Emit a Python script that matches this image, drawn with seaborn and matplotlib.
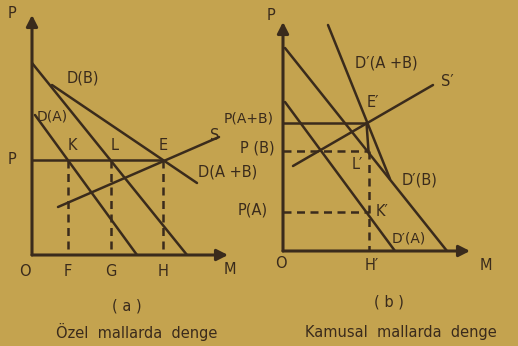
import matplotlib
matplotlib.use("Agg")
import matplotlib.pyplot as plt
import seaborn as sns

sns.set_theme(style="white")
plt.rcParams['font.family'] = ['DejaVu Sans']

BG = "#c4a34f"
INK = "#3a2b1c"

# ---------- panel (a) data (quantity, price) ----------
a_xmax, a_ymax = 19.6, 24.0
a_DA_x = [0.3, 10.5];  a_DA_y = [14.0, 0.0]
a_DB_x = [0.0, 15.5];  a_DB_y = [19.2, 0.0]
a_DAB_x = [2.0, 16.5]; a_DAB_y = [17.0, 7.2]
a_S_x = [2.6, 18.7];   a_S_y = [4.8, 11.8]
a_P = 9.5
a_F, a_G, a_H = 3.6, 7.9, 13.1

# ---------- panel (b) data ----------
b_xmax, b_ymax = 18.7, 22.9
b_DA_x = [0.2, 11.2];  b_DA_y = [14.9, 0.0]
b_DB_x = [0.2, 16.4];  b_DB_y = [20.3, 0.0]
b_DAB_x = [4.5, 10.7]; b_DAB_y = [22.6, 7.2]
b_S_x = [1.0, 15.0];   b_S_y = [8.5, 16.6]
b_PAB, b_PB, b_PA = 12.8, 10.0, 3.9
b_E = 8.35
b_H = 8.55

W, H = 518, 346
fig = plt.figure(figsize=(W / 100, H / 100), dpi=100, facecolor=BG)


def make_ax(ox, oy, xmax, ymax):
    # origin at pixel (ox, oy); 1 data unit = 10 px
    ax = fig.add_axes([ox / W, (H - oy) / H, xmax * 10 / W, ymax * 10 / H])
    ax.set_xlim(0, xmax)
    ax.set_ylim(0, ymax)
    ax.axis("off")
    ax.patch.set_alpha(0)
    return ax


def seg(ax, xs, ys, dashed=False, lw=1.8):
    sns.lineplot(x=xs, y=ys, ax=ax, color=INK, lw=lw, estimator=None,
                 sort=False, linestyle=(0, (3.2, 2.2)) if dashed else "-")


def axes_arrows(ax, xmax, ymax):
    kw = dict(arrowstyle="-|>,head_length=0.55,head_width=0.28", color=INK,
              lw=2.2, shrinkA=0, shrinkB=0)
    ax.annotate("", xy=(xmax, 0), xytext=(0, 0), arrowprops=kw,
                annotation_clip=False)
    ax.annotate("", xy=(0, ymax), xytext=(0, 0), arrowprops=kw,
                annotation_clip=False)


def lab(ax, ox, oy, px, py, s, ha="center", fs=10.5):
    ax.text((px - ox) / 10, (oy - py) / 10, s, ha=ha, va="center",
            fontsize=fs, color=INK, clip_on=False)


# ---------------- panel (a) ----------------
oxa, oya = 32, 255
axa = make_ax(oxa, oya, a_xmax, a_ymax)
axes_arrows(axa, a_xmax, a_ymax)
seg(axa, a_DA_x, a_DA_y)
seg(axa, a_DB_x, a_DB_y)
seg(axa, a_DAB_x, a_DAB_y)
seg(axa, a_S_x, a_S_y)
seg(axa, [0, a_H], [a_P, a_P])
for q in (a_F, a_G, a_H):
    seg(axa, [q, q], [a_P, 0], dashed=True)

lab(axa, oxa, oya, 12, 14, "P")
lab(axa, oxa, oya, 83, 78, "D(B)")
lab(axa, oxa, oya, 52, 117, "D(A)", fs=10)
lab(axa, oxa, oya, 72, 146, "K")
lab(axa, oxa, oya, 115, 146, "L")
lab(axa, oxa, oya, 163, 146, "E")
lab(axa, oxa, oya, 12, 160, "P")
lab(axa, oxa, oya, 215, 136, "S")
lab(axa, oxa, oya, 228, 172, "D(A +B)")
lab(axa, oxa, oya, 25, 272, "O")
lab(axa, oxa, oya, 68, 272, "F")
lab(axa, oxa, oya, 111, 272, "G")
lab(axa, oxa, oya, 163, 272, "H")
lab(axa, oxa, oya, 230, 269, "M")
lab(axa, oxa, oya, 127, 306, "( a )")
lab(axa, oxa, oya, 137, 332, "Özel  mallarda  denge")

# ---------------- panel (b) ----------------
oxb, oyb = 283, 251
axb = make_ax(oxb, oyb, b_xmax, b_ymax)
axes_arrows(axb, b_xmax, b_ymax)
seg(axb, b_DA_x, b_DA_y)
seg(axb, b_DB_x, b_DB_y)
seg(axb, b_DAB_x, b_DAB_y)
seg(axb, b_S_x, b_S_y)
seg(axb, [0, b_E], [b_PAB, b_PAB])
seg(axb, [b_E, b_H], [b_PAB, b_PB])
seg(axb, [0, b_H], [b_PB, b_PB], dashed=True)
seg(axb, [0, b_H], [b_PA, b_PA], dashed=True)
seg(axb, [b_H, b_H], [b_PB, 0], dashed=True)

lab(axb, oxb, oyb, 271, 16, "P")
lab(axb, oxb, oyb, 386, 63, "D\u2032(A +B)")
lab(axb, oxb, oyb, 447, 82, "S\u2032")
lab(axb, oxb, oyb, 373, 103, "E\u2032")
lab(axb, oxb, oyb, 249, 119, "P(A+B)", fs=10)
lab(axb, oxb, oyb, 257, 148, "P (B)")
lab(axb, oxb, oyb, 253, 210, "P(A)")
lab(axb, oxb, oyb, 357, 165, "L\u2032")
lab(axb, oxb, oyb, 420, 180, "D\u2032(B)")
lab(axb, oxb, oyb, 382, 211, "K\u2032")
lab(axb, oxb, oyb, 409, 239, "D\u2032(A)", fs=10)
lab(axb, oxb, oyb, 281, 263, "O")
lab(axb, oxb, oyb, 372, 265, "H\u2032")
lab(axb, oxb, oyb, 486, 265, "M")
lab(axb, oxb, oyb, 389, 302, "( b )")
lab(axb, oxb, oyb, 401, 332, "Kamusal  mallarda  denge")

fig.savefig("out.png", dpi=100, facecolor=BG)
